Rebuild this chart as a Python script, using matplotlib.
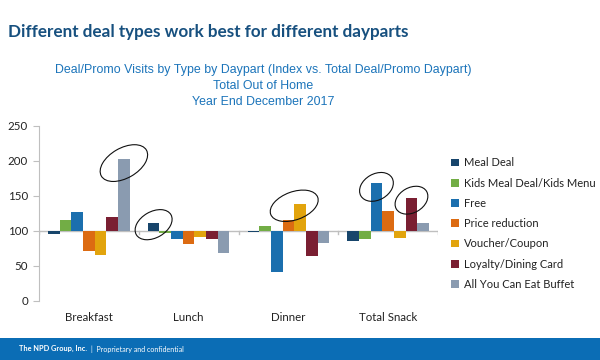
import numpy as np
import matplotlib.pyplot as plt
from matplotlib.patches import Ellipse, Rectangle
from matplotlib.transforms import ScaledTranslation

dayparts = ["Breakfast", "Lunch", "Dinner", "Total Snack"]
deal_types = ["Meal Deal", "Kids Meal Deal/Kids Menu", "Free", "Price reduction",
              "Voucher/Coupon", "Loyalty/Dining Card", "All You Can Eat Buffet"]
meal_deal = [95, 112, 98, 86]
kids_menu = [116, 97, 107, 89]
free = [127, 88, 42, 169]
price_reduction = [71, 81, 115, 128]
voucher_coupon = [65, 91, 139, 90]
loyalty_card = [120, 88, 64, 147]
buffet = [203, 69, 83, 112]
series = [meal_deal, kids_menu, free, price_reduction, voucher_coupon, loyalty_card, buffet]
colors = ["#17456b", "#72ad45", "#1b6fae", "#dc6b12", "#e2a40d", "#7a1f32", "#8a9bb0"]

# (daypart index, deal type indices) that are circled on the slide
highlights = [(0, [6]), (1, [0]), (2, [3, 4]), (3, [2]), (3, [5])]
ell_sizes = [(0.52, 0.30, 30), (0.40, 0.26, 30), (0.50, 0.28, 20), (0.36, 0.26, 30), (0.35, 0.25, 30)]

fig = plt.figure(figsize=(6, 3.6), dpi=100)
fig.patch.set_facecolor("white")

fig.text(0.013, 0.911, "Different deal types work best for different dayparts",
         fontsize=12.3, fontweight="bold", color="#17507f", family="Lato", va="center")
fig.text(0.438, 0.761, "Deal/Promo Visits by Type by Daypart (Index vs. Total Deal/Promo Daypart)\n"
         "Total Out of Home\nYear End December 2017", fontsize=8.9, color="#1b74ba",
         family="Liberation Sans", ha="center", va="center", linespacing=1.48)

ax = fig.add_axes([0.065, 0.164, 0.665, 0.486])
x = np.arange(len(dayparts))
w = 0.117
base = 100
for i, (name, vals, c) in enumerate(zip(deal_types, series, colors)):
    vals = np.array(vals)
    ax.bar(x + (i - 3) * w, vals - base, w, bottom=base, color=c, label=name, zorder=2)

ax.set_xlim(-0.5, len(dayparts) - 0.5)
ax.set_ylim(0, 250)
ax.axhline(base, color="#bfbfbf", lw=1, zorder=1)
for b in np.arange(-0.5, len(dayparts), 1.0):
    ax.plot([b, b], [base, base - 4], color="#bfbfbf", lw=1, zorder=1)

ax.set_yticks(range(0, 251, 50))
ax.set_xticks(x)
ax.set_xticklabels(dayparts)
ax.tick_params(axis="x", length=0, pad=8, labelsize=8.3, labelcolor="#222222")
ax.tick_params(axis="y", length=4, color="#bfbfbf", labelsize=8.3, labelcolor="#222222", pad=4)
for lab in ax.get_xticklabels() + ax.get_yticklabels():
    lab.set_family("Lato")
for s in ["top", "right", "bottom"]:
    ax.spines[s].set_visible(False)
ax.spines["left"].set_color("#bfbfbf")

for (d, idx), (ew, eh, ang) in zip(highlights, ell_sizes):
    cx = x[d] + (np.mean(idx) - 3) * w
    top = max(series[i][d] for i in idx)
    cy = top - 6 if top > 150 else top - 3
    tr = fig.dpi_scale_trans + ScaledTranslation(cx, cy, ax.transData)
    ax.add_patch(Ellipse((0, 0), ew, eh, angle=ang, fill=False, ec="#111111", lw=0.8,
                         transform=tr, zorder=3, clip_on=False))

handles, labels = ax.get_legend_handles_labels()
leg = fig.legend(handles, labels, loc="upper left", bbox_to_anchor=(0.745, 0.575),
                 frameon=False, fontsize=8, handlelength=0.7, handleheight=0.7,
                 handletextpad=0.4, labelspacing=0.83, borderaxespad=0)
for t in leg.get_texts():
    t.set_family("Lato")
    t.set_color("#222222")

fig.patches.append(Rectangle((0, 0), 1, 0.061, transform=fig.transFigure,
                             facecolor="#0b6db5", edgecolor="none", zorder=0))
fig.text(0.032, 0.031, "The NPD Group, Inc.", color="white", fontsize=5.3,
         fontweight="bold", family="Lato", va="center")
fig.text(0.152, 0.031, "|  Proprietary and confidential", color="white", fontsize=5.1,
         family="Lato", va="center")

fig.savefig("out.png", dpi=100)
